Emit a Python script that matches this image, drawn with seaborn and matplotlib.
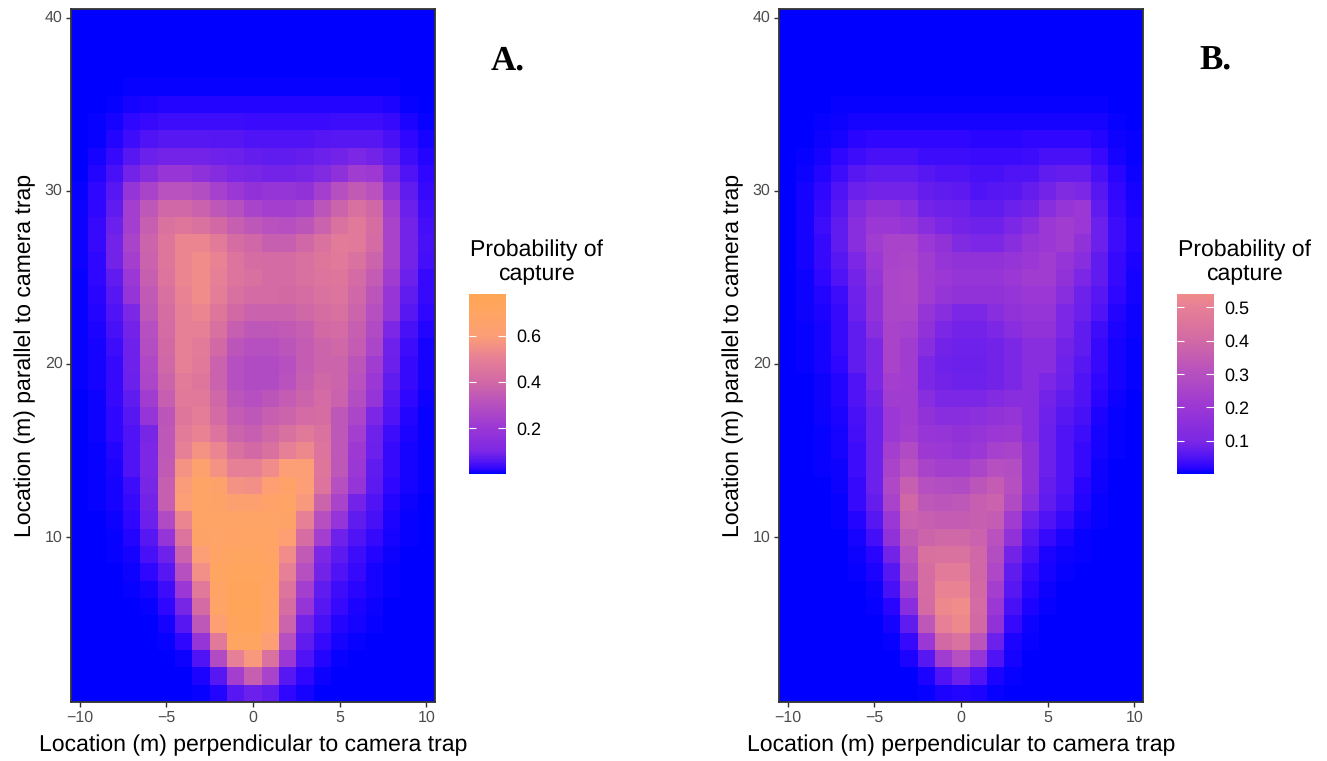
import pandas as pd
import matplotlib.pyplot as plt
from matplotlib.colors import LinearSegmentedColormap
import seaborn as sns

sns.set_theme(style='ticks')
plt.rcParams['font.family'] = ['Liberation Sans', 'DejaVu Sans']
plt.rcParams['text.color'] = 'black'
plt.rcParams['text.hinting'] = 'no_hinting'
plt.rcParams['text.hinting_factor'] = 1

x_locations = list(range(-10, 11))
y_locations = list(range(40, 0, -1))
x_ticks = [-10, -5, 0, 5, 10]
y_ticks = [10, 20, 30, 40]

# rows go from y=40 at the top down to y=1, columns from x=-10 to x=10
prob_a = [
    [0]*21,
    [0]*21,
    [0]*21,
    [0, 0, 0, .001, .001, .001, .001, .001, .001, .001, .001, .001, .001, .001, .001, .001, .001, .001, .001, 0, 0],
    [0, .001, .003, .006, .006, .006, .006, .006, .006, .006, .006, .006, .006, .006, .006, .006, .006, .006, .005, .003, .001],
    [0, .003, .006, .012, .014, .018, .018, .018, .018, .018, .018, .018, .018, .018, .018, .018, .018, .018, .014, .006, .003],
    [.001, .005, .012, .022, .03, .035, .035, .035, .035, .035, .033, .033, .033, .033, .033, .035, .035, .035, .03, .014, .006],
    [.001, .006, .016, .035, .05, .06, .06, .06, .055, .055, .05, .05, .05, .05, .055, .06, .06, .06, .045, .022, .012],
    [.003, .012, .03, .06, .08, .09, .09, .09, .085, .08, .075, .07, .07, .075, .08, .09, .10, .09, .07, .035, .016],
    [.003, .016, .045, .09, .13, .19, .19, .16, .13, .10, .095, .09, .09, .095, .11, .16, .22, .21, .095, .05, .022],
    [.005, .022, .06, .18, .25, .31, .31, .29, .24, .20, .17, .18, .18, .17, .23, .30, .34, .31, .17, .07, .03],
    [.008, .022, .07, .23, .33, .39, .39, .37, .33, .30, .25, .23, .23, .25, .32, .38, .43, .39, .23, .08, .035],
    [.008, .03, .08, .23, .36, .44, .46, .44, .40, .36, .33, .31, .30, .32, .37, .44, .47, .42, .25, .09, .04],
    [.008, .03, .09, .25, .38, .46, .52, .52, .48, .42, .39, .36, .36, .39, .44, .48, .47, .41, .25, .09, .045],
    [.008, .022, .09, .23, .37, .46, .52, .54, .51, .45, .42, .41, .41, .43, .46, .47, .44, .38, .25, .09, .04],
    [.006, .022, .07, .20, .36, .45, .52, .54, .50, .45, .43, .41, .41, .43, .45, .46, .41, .35, .22, .08, .03],
    [.006, .02, .06, .18, .34, .43, .51, .54, .49, .43, .41, .41, .40, .42, .44, .45, .39, .32, .19, .07, .028],
    [.006, .016, .05, .10, .33, .42, .50, .52, .46, .40, .37, .37, .37, .39, .42, .43, .38, .30, .18, .06, .022],
    [.004, .014, .045, .09, .30, .41, .50, .50, .43, .36, .33, .33, .34, .36, .40, .41, .36, .28, .10, .045, .016],
    [.004, .012, .035, .085, .29, .40, .50, .48, .40, .32, .30, .30, .32, .35, .38, .39, .35, .26, .085, .035, .012],
    [.004, .012, .03, .085, .27, .39, .50, .47, .37, .30, .28, .28, .30, .35, .38, .38, .32, .22, .08, .03, .012],
    [.004, .01, .03, .08, .26, .38, .48, .46, .37, .30, .28, .28, .31, .36, .39, .38, .31, .20, .07, .028, .01],
    [.003, .008, .03, .07, .22, .36, .47, .47, .39, .32, .30, .32, .35, .38, .41, .37, .29, .18, .06, .022, .008],
    [.002, .008, .022, .06, .18, .32, .46, .49, .41, .35, .33, .36, .38, .41, .42, .33, .26, .10, .05, .016, .006],
    [.002, .008, .022, .05, .095, .33, .48, .51, .45, .38, .36, .39, .43, .47, .44, .33, .23, .085, .035, .014, .004],
    [.002, .006, .016, .05, .10, .33, .50, .56, .52, .43, .40, .43, .50, .53, .45, .33, .21, .08, .03, .012, .004],
    [.002, .006, .014, .05, .10, .34, .56, .64, .56, .50, .50, .54, .60, .60, .46, .33, .20, .07, .03, .012, .004],
    [.002, .004, .012, .035, .095, .36, .59, .68, .65, .56, .55, .62, .66, .60, .45, .30, .18, .065, .022, .01, .004],
    [.001, .004, .012, .03, .09, .36, .60, .68, .67, .63, .63, .66, .68, .58, .38, .25, .09, .05, .016, .008, .003],
    [.001, .003, .008, .022, .08, .28, .52, .68, .68, .68, .68, .68, .67, .50, .30, .18, .07, .045, .014, .006, .002],
    [0, .002, .006, .016, .06, .18, .45, .67, .68, .69, .69, .69, .62, .42, .23, .085, .05, .03, .012, .005, .001],
    [0, .001, .004, .012, .045, .085, .37, .60, .69, .70, .70, .69, .54, .34, .10, .065, .035, .016, .008, .003, .001],
    [0, .001, .002, .008, .022, .06, .30, .55, .70, .73, .73, .70, .50, .30, .09, .05, .03, .012, .006, .002, .001],
    [0, 0, .001, .005, .012, .035, .20, .47, .69, .74, .74, .69, .45, .23, .07, .035, .02, .01, .004, .001, 0],
    [0, 0, .001, .002, .006, .022, .095, .41, .68, .75, .75, .69, .42, .18, .06, .03, .014, .008, .003, .001, 0],
    [0, 0, 0, .001, .003, .012, .06, .33, .62, .74, .74, .68, .38, .09, .045, .016, .01, .005, .002, .001, 0],
    [0, 0, 0, 0, .001, .005, .022, .18, .47, .70, .70, .60, .30, .07, .03, .012, .006, .003, .001, 0, 0],
    [0, 0, 0, 0, 0, .002, .008, .05, .28, .50, .58, .44, .20, .05, .016, .006, .003, .002, 0, 0, 0],
    [0, 0, 0, 0, 0, 0, .003, .014, .06, .23, .36, .25, .06, .022, .008, .002, .001, 0, 0, 0, 0],
    [0, 0, 0, 0, 0, 0, .001, .006, .016, .06, .08, .07, .022, .012, .003, .001, 0, 0, 0, 0, 0],
]

prob_b = [
    [0]*21,
    [0]*21,
    [0]*21,
    [0]*21,
    [0, 0, 0, .001, .001, .001, .001, .001, .001, .001, .001, .001, .001, .001, .001, .001, .001, .001, .001, 0, 0],
    [0, .001, .002, .004, .005, .005, .005, .005, .005, .005, .005, .005, .005, .005, .005, .005, .005, .005, .004, .002, .001],
    [0, .002, .005, .008, .01, .012, .012, .012, .012, .012, .012, .012, .012, .012, .012, .012, .012, .012, .01, .005, .002],
    [.001, .003, .007, .012, .02, .022, .022, .022, .022, .022, .022, .02, .02, .02, .022, .022, .022, .022, .016, .008, .004],
    [.001, .005, .012, .022, .035, .045, .045, .045, .035, .035, .035, .033, .033, .033, .035, .045, .045, .045, .03, .012, .006],
    [.002, .007, .016, .035, .06, .07, .07, .07, .06, .05, .05, .045, .045, .05, .05, .07, .075, .075, .045, .02, .008],
    [.002, .01, .022, .05, .08, .09, .09, .09, .075, .07, .065, .05, .055, .06, .075, .09, .11, .10, .06, .025, .012],
    [.002, .012, .03, .06, .11, .17, .17, .14, .09, .085, .08, .07, .07, .08, .09, .14, .18, .20, .07, .03, .014],
    [.002, .012, .035, .07, .14, .20, .20, .18, .14, .10, .09, .085, .085, .10, .14, .20, .22, .20, .08, .035, .016],
    [.002, .012, .03, .07, .14, .22, .25, .25, .20, .17, .11, .10, .10, .14, .18, .20, .22, .17, .08, .035, .016],
    [.002, .01, .03, .06, .10, .20, .25, .26, .22, .18, .17, .17, .17, .18, .20, .22, .18, .14, .07, .03, .014],
    [.002, .008, .022, .05, .09, .18, .26, .27, .22, .20, .18, .18, .18, .20, .22, .22, .17, .10, .07, .028, .012],
    [.001, .008, .016, .035, .085, .17, .26, .27, .22, .18, .17, .17, .17, .18, .20, .20, .14, .085, .06, .022, .01],
    [.001, .007, .014, .03, .08, .17, .26, .26, .18, .14, .10, .10, .14, .17, .18, .18, .10, .08, .05, .016, .008],
    [.001, .006, .012, .03, .07, .14, .25, .24, .17, .10, .09, .09, .10, .14, .17, .17, .10, .07, .035, .014, .007],
    [.001, .005, .012, .028, .07, .10, .25, .22, .14, .09, .085, .085, .09, .10, .14, .14, .09, .07, .03, .012, .006],
    [.001, .004, .01, .022, .07, .10, .25, .22, .10, .085, .08, .08, .09, .10, .14, .14, .085, .06, .03, .012, .005],
    [.001, .003, .008, .016, .05, .10, .23, .22, .10, .09, .085, .085, .09, .10, .14, .10, .08, .05, .022, .01, .004],
    [0, .002, .008, .016, .05, .09, .22, .22, .14, .10, .10, .10, .12, .14, .14, .09, .07, .05, .02, .008, .003],
    [0, .002, .007, .014, .045, .08, .20, .22, .17, .14, .14, .15, .17, .18, .14, .085, .06, .045, .014, .006, .002],
    [0, .002, .006, .012, .04, .08, .20, .23, .19, .18, .17, .18, .20, .21, .14, .08, .05, .035, .012, .005, .002],
    [0, .002, .005, .01, .035, .08, .23, .28, .21, .20, .18, .20, .24, .25, .17, .08, .05, .03, .01, .004, .002],
    [0, .001, .004, .008, .035, .08, .25, .31, .25, .23, .23, .26, .30, .29, .17, .08, .05, .03, .008, .003, .001],
    [0, .001, .003, .008, .03, .08, .27, .36, .30, .29, .28, .32, .35, .30, .17, .075, .05, .02, .008, .003, .001],
    [0, .001, .002, .006, .03, .075, .25, .39, .33, .32, .33, .36, .37, .28, .14, .07, .045, .018, .006, .002, .001],
    [0, 0, .002, .005, .018, .06, .20, .37, .36, .35, .35, .36, .35, .22, .08, .05, .03, .012, .005, .002, 0],
    [0, 0, .001, .003, .012, .04, .17, .34, .38, .39, .39, .37, .31, .17, .06, .03, .014, .006, .003, .001, 0],
    [0, 0, .001, .002, .008, .02, .09, .31, .43, .44, .44, .39, .29, .09, .045, .014, .008, .004, .002, .001, 0],
    [0, 0, 0, .001, .005, .014, .06, .28, .42, .48, .48, .39, .27, .07, .03, .012, .005, .002, .001, 0, 0],
    [0, 0, 0, .001, .002, .008, .045, .22, .42, .51, .51, .40, .23, .06, .02, .008, .003, .002, .001, 0, 0],
    [0, 0, 0, 0, .001, .005, .02, .14, .41, .53, .54, .41, .20, .045, .014, .005, .002, .001, 0, 0, 0],
    [0, 0, 0, 0, .001, .002, .012, .07, .33, .50, .53, .40, .17, .03, .008, .003, .001, 0, 0, 0, 0],
    [0, 0, 0, 0, 0, .001, .005, .03, .20, .40, .44, .32, .08, .014, .005, .002, 0, 0, 0, 0, 0],
    [0, 0, 0, 0, 0, 0, .002, .014, .06, .22, .30, .18, .05, .012, .002, .001, 0, 0, 0, 0, 0],
    [0, 0, 0, 0, 0, 0, 0, .003, .014, .05, .08, .05, .014, .006, .001, 0, 0, 0, 0, 0, 0],
    [0, 0, 0, 0, 0, 0, 0, .001, .005, .014, .016, .014, .006, .002, 0, 0, 0, 0, 0, 0, 0],
]

scale_max = 0.78
a_bar_max = 0.78
b_bar_max = 0.54
a_bar_ticks = [0.2, 0.4, 0.6]
b_bar_ticks = [0.1, 0.2, 0.3, 0.4, 0.5]

scale_values = [0, .02, .05, .1, .2, .3, .4, .5, .54, .6, .7, .78]
scale_rgb = [(0, 0, 255), (45, 5, 255), (80, 20, 245), (125, 40, 228), (155, 55, 212), (182, 80, 192),
             (210, 105, 165), (230, 127, 150), (240, 140, 138), (252, 158, 118), (255, 165, 98), (255, 165, 85)]
cmap = LinearSegmentedColormap.from_list(
    'blue_tan',
    [(v / scale_max, tuple(c / 255 for c in rgb)) for v, rgb in zip(scale_values, scale_rgb)],
)

W, H = 1327, 761
fig = plt.figure(figsize=(W / 100, H / 100), dpi=100)


def pixel_axes(left, right, top, bottom):
    return fig.add_axes([left / W, 1 - bottom / H, (right - left) / W, (bottom - top) / H])


def draw_panel(rows, left, bar_left, bar_max, bar_ticks, letter):
    ax = pixel_axes(left, left + 364, 9, 702)
    cax = pixel_axes(bar_left, bar_left + 36.5, 294, 474)
    df = pd.DataFrame(rows, index=y_locations, columns=x_locations)
    sns.heatmap(df, ax=ax, cbar_ax=cax, cmap=cmap, vmin=0, vmax=scale_max,
                cbar_kws={'ticks': bar_ticks}, rasterized=True)

    ax.set_xticks([x_locations.index(v) + 0.5 for v in x_ticks])
    ax.set_xticklabels([str(v).replace('-', '\u2212') for v in x_ticks], rotation=0)
    ax.set_yticks([y_locations.index(v) + 0.5 for v in y_ticks])
    ax.set_yticklabels([str(v) for v in y_ticks], rotation=0)
    ax.tick_params(length=3.5, width=1, color='#333333', labelcolor='#4D4D4D',
                   labelsize=11.5, pad=2.5, left=True, bottom=True)
    ax.set_xlabel('Location (m) perpendicular to camera trap', fontsize=16.6, color='black', labelpad=7)
    ax.set_ylabel('Location (m) parallel to camera trap', fontsize=16.6, color='black', labelpad=6.5)
    for spine in ax.spines.values():
        spine.set_visible(True)
        spine.set_color('#333333')
        spine.set_linewidth(1.3)

    # legend ticks are short white marks on both edges of the bar
    cax.set_ylim(0, bar_max)
    cax.tick_params(length=0, labelsize=13, labelcolor='black', pad=8)
    trans = cax.get_yaxis_transform()
    cax.hlines(bar_ticks, 0, 0.2, color='white', lw=0.8, transform=trans)
    cax.hlines(bar_ticks, 0.8, 1, color='white', lw=0.8, transform=trans)
    fig.text((bar_left + 67) / W, 1 - 262 / H, 'Probability of\ncapture', fontsize=16.5,
             ha='center', va='center', linespacing=1.15)

    fig.text((left + 436.5) / W, 1 - 61 / H, letter, fontsize=25, fontweight='bold',
             family='Liberation Serif', ha='center', va='center')


draw_panel(prob_a, 71, 469, a_bar_max, a_bar_ticks, 'A.')
draw_panel(prob_b, 779, 1177, b_bar_max, b_bar_ticks, 'B.')

fig.savefig('out.png', dpi=100)
